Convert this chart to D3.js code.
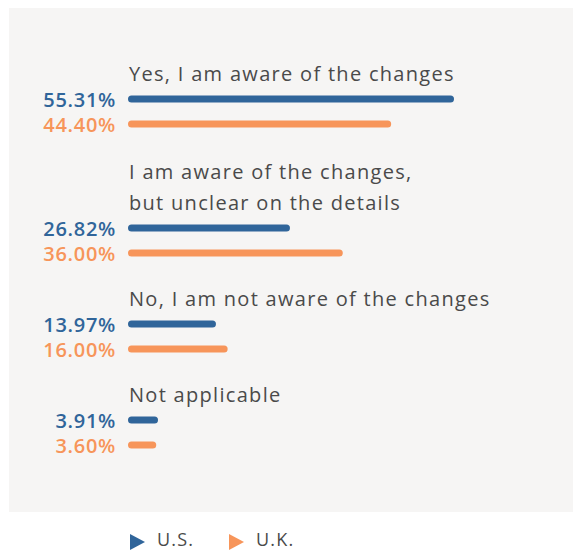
<!DOCTYPE html>
<html><head><meta charset="utf-8">
<script src="https://cdn.jsdelivr.net/npm/d3@7"></script>
<style>html,body{margin:0;padding:0;background:#fff;}svg{display:block;}</style>
</head><body>
<script>
const categories = [
  ["Yes, I am aware of the changes"],
  ["I am aware of the changes,", "but unclear on the details"],
  ["No, I am not aware of the changes"],
  ["Not applicable"]
];
const usValues = [55.31, 26.82, 13.97, 3.91];
const ukValues = [44.40, 36.00, 16.00, 3.60];
const seriesNames = ["U.S.", "U.K."];
const colors = ["#30659a", "#f7955a"];

const W = 574, H = 552;
const svg = d3.select("body").append("svg").attr("width", W).attr("height", H);
svg.append("rect").attr("x", 9).attr("y", 8).attr("width", 564).attr("height", 504).attr("fill", "#f6f5f4");

const x = d3.scaleLinear().domain([0, 55.31]).range([135.5, 454]);
const barStart = 128;
const blueY = [99, 228, 324, 420];
const labelFont = "'Open Sans', sans-serif";

categories.forEach((lines, i) => {
  const by = blueY[i];
  const n = lines.length;
  lines.forEach((t, j) => {
    svg.append("text").attr("x", 129).attr("y", by - 18 - (n - 1 - j) * 31)
      .attr("font-family", labelFont).attr("font-size", 20).attr("fill", "#4a4a4a")
      .attr("letter-spacing", 1.3)
      .text(t);
  });
  [usValues[i], ukValues[i]].forEach((v, s) => {
    const cy = by + s * 25;
    svg.append("rect").attr("x", barStart).attr("y", cy - 3.5)
      .attr("width", x(v) - barStart).attr("height", 7).attr("rx", 3.5)
      .attr("fill", colors[s]);
    svg.append("text").attr("x", 116).attr("y", cy + 7.5).attr("text-anchor", "end")
      .attr("font-family", labelFont).attr("font-weight", 600).attr("font-size", 20)
      .attr("letter-spacing", 0.7)
      .attr("fill", colors[s]).text(v.toFixed(2) + "%");
  });
});

const legX = [130, 229];
seriesNames.forEach((name, s) => {
  const lx = legX[s], ly = 542;
  svg.append("path").attr("d", `M${lx},${ly-8}L${lx+15},${ly}L${lx},${ly+8}Z`).attr("fill", colors[s]);
  svg.append("text").attr("x", lx + 27).attr("y", 546)
    .attr("font-family", labelFont).attr("font-size", 18).attr("letter-spacing", 1.2)
    .attr("fill", "#4a4a4a").text(name);
});
</script>
</body></html>
